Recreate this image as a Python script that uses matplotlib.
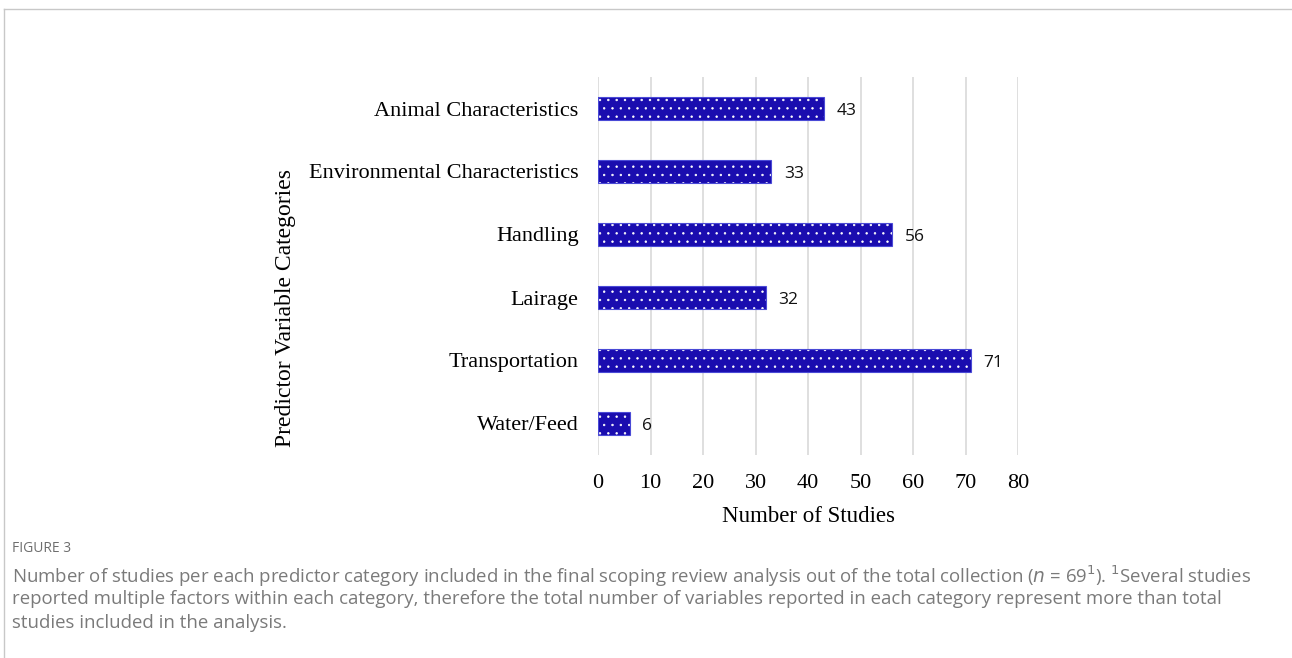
import matplotlib.pyplot as plt
from matplotlib.lines import Line2D

categories = ["Animal Characteristics", "Environmental Characteristics", "Handling",
              "Lairage", "Transportation", "Water/Feed"]
studies = [43, 33, 56, 32, 71, 6]
xticks = [0, 10, 20, 30, 40, 50, 60, 70, 80]

caption_title = "FIGURE 3"
caption_lines = [
    "Number of studies per each predictor category included in the final scoping review analysis out of the total collection ($\\it{n}$ = 69$^{1}$). $^{1}$Several studies",
    "reported multiple factors within each category, therefore the total number of variables reported in each category represent more than total",
    "studies included in the analysis.",
]

bar_color = "#1a0daf"
serif = "Liberation Serif"

fig = plt.figure(figsize=(12.92, 6.58), dpi=100)
ax = fig.add_axes([598 / 1292, 1 - 455 / 658, 420 / 1292, 378 / 658])

ypos = list(range(len(categories)))
plt.rcParams['hatch.linewidth'] = 0.5
ax.barh(ypos, studies, height=0.35, color=bar_color, edgecolor="white",
        linewidth=0, hatch="..", zorder=3)
ax.barh(ypos, studies, height=0.35, fill=False, edgecolor="#4a4ad6",
        linewidth=0.8, zorder=4)

for y, v in zip(ypos, studies):
    ax.annotate(str(v), (v, y), xytext=(9, -2), textcoords="offset points",
                va="center", ha="left", fontsize=12.5, family="Open Sans", color="#111111")

ax.set_xlim(0, 80)
ax.set_ylim(len(categories) - 0.5, -0.5)
ax.set_xticks(xticks)
ax.set_yticks(ypos)
ax.set_yticklabels(categories, fontsize=16, family=serif)
ax.set_xticklabels([str(t) for t in xticks], fontsize=16, family=serif)
ax.tick_params(length=0)
ax.tick_params(axis="x", pad=14)
ax.tick_params(axis="y", pad=14)
ax.grid(axis="x", color="#d9d9d9", linewidth=1.2, zorder=0)
for s in ax.spines.values():
    s.set_visible(False)

ax.set_xlabel("Number of Studies", fontsize=16.5, family=serif, labelpad=9)
fig.text(285 / 1292, 1 - 308 / 658, "Predictor Variable Categories", rotation=90,
         fontsize=17, family=serif, ha="center", va="center")

# figure frame (top and left)
fig.add_artist(Line2D([4 / 1292, 1], [1 - 9 / 658, 1 - 9 / 658], color="#c8c8c8", lw=1))
fig.add_artist(Line2D([4 / 1292, 4 / 1292], [0, 1 - 9 / 658], color="#c8c8c8", lw=1))

fig.text(12 / 1292, 1 - 548 / 658, caption_title, fontsize=10, family="Open Sans",
         color="#6e6e6e", va="center")
for i, line in enumerate(caption_lines):
    fig.text(12 / 1292, 1 - (576 + 23.5 * i) / 658, line, fontsize=13.4,
             family="Open Sans", color="#7a7a7a", va="center")

fig.savefig("out.png", dpi=100)
